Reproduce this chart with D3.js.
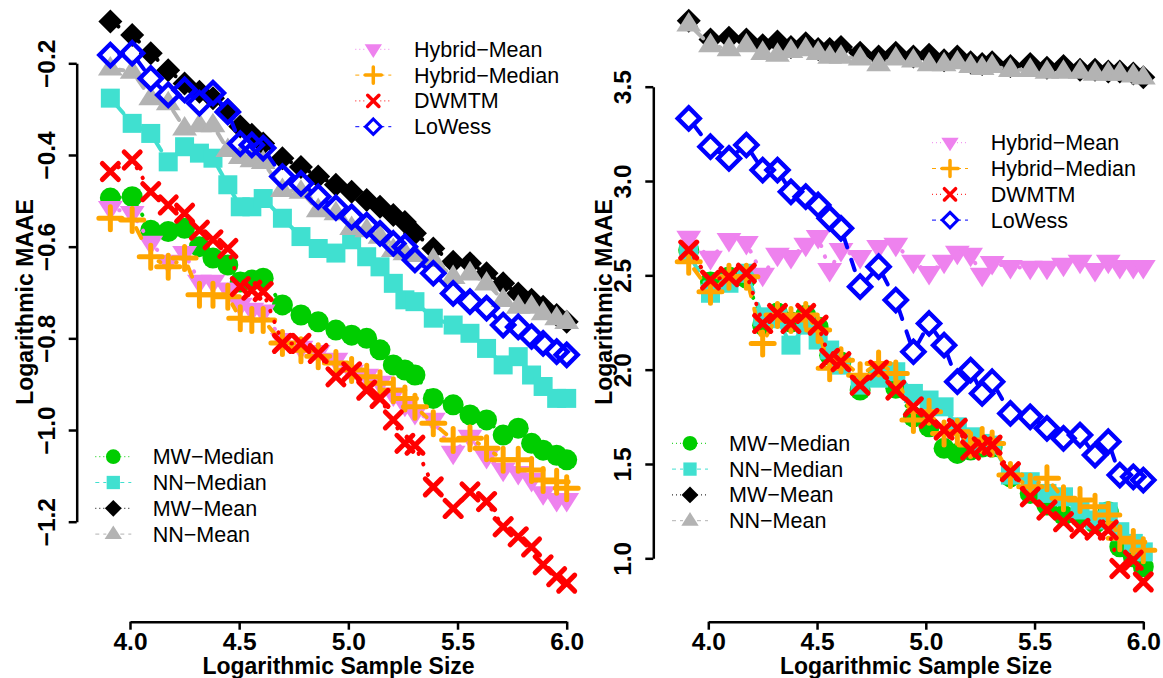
<!DOCTYPE html>
<html>
<head>
<meta charset="utf-8">
<script src="https://cdn.jsdelivr.net/npm/d3@7"></script>
<style>
  body { margin: 0; background: #fff; }
  text { font-family: "Liberation Sans", Arial, Helvetica, sans-serif; }
</style>
</head>
<body>
<div id="chart"></div>
<script>
// log10 sample sizes, shared by both panels
const logN = [3.91, 4.01, 4.095, 4.175, 4.25, 4.318, 4.38, 4.448, 4.505, 4.558, 4.61, 4.698, 4.783, 4.862, 4.943,
  5.015, 5.084, 5.145, 5.206, 5.259, 5.305, 5.389, 5.48, 5.557, 5.633, 5.709, 5.778, 5.839, 5.892, 5.954, 6.0];

const methods = ["MW\u2212Median", "NN\u2212Median", "MW\u2212Mean", "NN\u2212Mean",
  "Hybrid\u2212Mean", "Hybrid\u2212Median", "DWMTM", "LoWess"];

// left panel
const leftMWMedian = [-0.494,-0.491,-0.564,-0.567,-0.560,-0.600,-0.625,-0.640,-0.677,-0.673,-0.669,-0.727,-0.749,-0.764,-0.782,-0.793,-0.800,-0.825,-0.858,-0.869,-0.880,-0.931,-0.945,-0.967,-0.978,-1.011,-0.996,-1.029,-1.044,-1.055,-1.065];
const leftNNMedian = [-0.276,-0.331,-0.353,-0.415,-0.382,-0.396,-0.407,-0.465,-0.513,-0.513,-0.495,-0.538,-0.578,-0.604,-0.614,-0.585,-0.622,-0.644,-0.680,-0.716,-0.720,-0.756,-0.771,-0.789,-0.822,-0.858,-0.840,-0.880,-0.905,-0.931,-0.931];
const leftMWMean = [-0.109,-0.138,-0.178,-0.215,-0.244,-0.262,-0.276,-0.302,-0.338,-0.356,-0.375,-0.407,-0.426,-0.447,-0.465,-0.480,-0.498,-0.513,-0.531,-0.546,-0.571,-0.604,-0.633,-0.636,-0.658,-0.680,-0.702,-0.716,-0.731,-0.749,-0.764];
const leftNNMean = [-0.211,-0.218,-0.276,-0.287,-0.342,-0.335,-0.335,-0.389,-0.404,-0.411,-0.415,-0.476,-0.480,-0.520,-0.527,-0.559,-0.564,-0.578,-0.607,-0.614,-0.618,-0.629,-0.666,-0.658,-0.680,-0.716,-0.731,-0.731,-0.745,-0.756,-0.764];
const leftHybridMean = [-0.516,-0.527,-0.592,-0.633,-0.614,-0.677,-0.677,-0.694,-0.727,-0.738,-0.742,-0.804,-0.821,-0.830,-0.847,-0.873,-0.882,-0.897,-0.923,-0.945,-0.963,-0.978,-1.050,-1.015,-1.059,-1.087,-1.094,-1.109,-1.138,-1.153,-1.153];
const leftHybridMedian = [-0.538,-0.542,-0.622,-0.644,-0.625,-0.705,-0.705,-0.709,-0.756,-0.760,-0.760,-0.810,-0.826,-0.839,-0.854,-0.869,-0.884,-0.898,-0.913,-0.931,-0.949,-0.985,-1.022,-1.018,-1.040,-1.065,-1.065,-1.087,-1.109,-1.113,-1.127];
const leftDWMTM = [-0.436,-0.411,-0.480,-0.509,-0.527,-0.564,-0.585,-0.604,-0.687,-0.695,-0.698,-0.811,-0.811,-0.833,-0.884,-0.873,-0.913,-0.931,-0.978,-1.029,-1.033,-1.124,-1.171,-1.135,-1.156,-1.211,-1.233,-1.255,-1.294,-1.320,-1.334];
const leftLoWess = [-0.182,-0.178,-0.233,-0.269,-0.258,-0.287,-0.265,-0.306,-0.375,-0.378,-0.385,-0.447,-0.462,-0.491,-0.515,-0.535,-0.553,-0.571,-0.593,-0.600,-0.629,-0.658,-0.702,-0.720,-0.734,-0.771,-0.775,-0.796,-0.811,-0.829,-0.836];

// right panel
const rightMWMedian = [2.634,2.465,2.491,2.486,2.236,2.300,2.252,2.289,2.226,2.077,2.040,1.892,1.987,1.902,1.750,1.697,1.583,1.556,1.574,1.590,1.590,1.432,1.344,1.282,1.229,1.220,1.185,1.247,1.061,1.008,0.955];
const rightNNMedian = [2.617,2.405,2.458,2.511,2.280,2.270,2.130,2.236,2.157,2.104,2.024,1.918,1.955,1.989,1.874,1.839,1.803,1.697,1.644,1.609,1.600,1.441,1.406,1.344,1.326,1.256,1.203,1.247,1.141,1.079,1.034];
const rightMWMean = [3.85,3.75,3.76,3.75,3.72,3.74,3.71,3.73,3.70,3.70,3.71,3.68,3.66,3.68,3.66,3.67,3.64,3.66,3.63,3.62,3.63,3.61,3.62,3.60,3.61,3.59,3.59,3.58,3.58,3.57,3.55];
const rightNNMean = [3.83,3.72,3.70,3.72,3.68,3.67,3.69,3.70,3.68,3.66,3.66,3.65,3.62,3.65,3.64,3.62,3.62,3.63,3.61,3.60,3.61,3.59,3.59,3.58,3.58,3.58,3.57,3.57,3.57,3.56,3.55];
const rightHybridMean = [2.698,2.592,2.687,2.671,2.502,2.608,2.597,2.661,2.703,2.528,2.634,2.597,2.650,2.661,2.571,2.512,2.571,2.619,2.608,2.502,2.565,2.544,2.539,2.539,2.555,2.571,2.528,2.571,2.544,2.544,2.544];
const rightHybridMedian = [2.572,2.413,2.493,2.493,2.139,2.290,2.263,2.290,2.210,2.007,2.050,1.971,2.033,1.980,1.733,1.777,1.662,1.671,1.600,1.627,1.609,1.441,1.379,1.424,1.318,1.309,1.273,1.229,1.106,1.087,1.043];
const rightDWMTM = [2.634,2.475,2.493,2.511,2.245,2.298,2.245,2.298,2.236,2.060,2.042,1.918,1.998,1.892,1.803,1.742,1.680,1.689,1.574,1.591,1.600,1.459,1.326,1.256,1.194,1.159,1.150,1.150,0.946,0.990,0.875];
const rightLoWess = [3.332,3.182,3.120,3.191,3.058,3.058,2.943,2.917,2.873,2.802,2.749,2.440,2.546,2.369,2.095,2.245,2.130,1.936,1.998,1.874,1.936,1.768,1.750,1.689,1.636,1.653,1.547,1.618,1.441,1.432,1.415];

const xTicks = [4.0, 4.5, 5.0, 5.5, 6.0];
const leftYTicks = [-0.2, -0.4, -0.6, -0.8, -1.0, -1.2];
const rightYTicks = [1.0, 1.5, 2.0, 2.5, 3.0, 3.5];

// look of each method, same order as methods
const styles = [
  {color: "#00cd00", shape: "circle", dash: "dot"},
  {color: "#40e0d0", shape: "square", dash: "dash"},
  {color: "#000000", shape: "diamond", dash: "dot"},
  {color: "#b3b3b3", shape: "triangle", dash: "dash"},
  {color: "#ee82ee", shape: "triangleDown", dash: "dot"},
  {color: "#ffa500", shape: "plus", dash: "dash"},
  {color: "#ff0000", shape: "cross", dash: "dot"},
  {color: "#0000ff", shape: "diamondOpen", dash: "dash"}
];

const svg = d3.select("#chart").append("svg")
  .attr("width", 1163).attr("height", 678)
  .style("background", "#fff");

function symbolPath(shape, k) {
  let h, s;
  switch (shape) {
    case "circle": h = 10.5 * k; return `M${-h},0A${h},${h} 0 1,0 ${h},0A${h},${h} 0 1,0 ${-h},0Z`;
    case "square": h = 9.5 * k; return `M${-h},${-h}H${h}V${h}H${-h}Z`;
    case "diamond": h = 12 * k; return `M0,${-h}L${h},0L0,${h}L${-h},0Z`;
    case "diamondOpen": h = 11 * k; return `M0,${-h}L${h},0L0,${h}L${-h},0Z`;
    case "triangle": s = 9.2 * k; return `M0,${-1.3468 * s}L${1.3468 * s},${0.7776 * s}L${-1.3468 * s},${0.7776 * s}Z`;
    case "triangleDown": s = 9.2 * k; return `M0,${1.3468 * s}L${1.3468 * s},${-0.7776 * s}L${-1.3468 * s},${-0.7776 * s}Z`;
    case "plus": h = 11.5 * k; return `M${-h},0H${h}M0,${-h}V${h}`;
    case "cross": h = 8 * k; return `M${-h},${-h}L${h},${h}M${-h},${h}L${h},${-h}`;
  }
}

function addSymbol(g, st, px, py, k) {
  const open = st.shape === "plus" || st.shape === "cross" || st.shape === "diamondOpen";
  g.append("path")
    .attr("d", symbolPath(st.shape, k))
    .attr("transform", `translate(${px},${py})`)
    .attr("fill", open ? "none" : st.color)
    .attr("stroke", open ? st.color : "none")
    .attr("stroke-width", (st.shape === "diamondOpen" ? 4.4 : 5) * k)
    .attr("stroke-linecap", "round")
    .attr("stroke-linejoin", "miter");
}

function panel(o) {
  const x = d3.scaleLinear().domain([4, 6]).range(o.xRange);
  const y = d3.scaleLinear().domain(o.yDomain).range(o.yRange);
  const g = svg.append("g");

  // axes
  const gx = g.append("g")
    .attr("transform", `translate(0,${o.axisY})`)
    .call(d3.axisBottom(x).tickValues(xTicks).tickFormat(d3.format(".1f"))
      .tickSize(8).tickSizeOuter(0).tickPadding(3));
  const gy = g.append("g")
    .attr("transform", `translate(${o.axisX},0)`)
    .call(d3.axisLeft(y).tickValues(o.yTicks).tickFormat(d3.format(".1f"))
      .tickSize(8).tickSizeOuter(0));
  [gx, gy].forEach(a => {
    a.attr("font-family", null).attr("font-size", null);
    a.selectAll("path, line").attr("stroke", "#000").attr("stroke-width", 2.5);
    a.selectAll("text").attr("fill", "#000").style("font-size", "24.5px").style("font-weight", "bold");
  });
  gy.selectAll("text")
    .attr("x", null).attr("dy", null)
    .attr("text-anchor", "middle")
    .attr("transform", "translate(-22,0) rotate(-90)");

  g.append("text")
    .attr("x", o.xTitleX).attr("y", 674)
    .attr("text-anchor", "middle")
    .style("font-size", "23px").style("font-weight", "bold")
    .text("Logarithmic Sample Size");
  g.append("text")
    .attr("transform", `translate(${o.yTitleX},302) rotate(-90)`)
    .attr("text-anchor", "middle")
    .style("font-size", "23px").style("font-weight", "bold")
    .text("Logarithmic MAAE");

  // series, type "b": segments with gaps around the points, then the points
  const gap = 9;
  o.series.forEach((vals, i) => {
    const st = styles[i];
    const sg = g.append("g");
    const pts = logN.map((v, j) => [x(v), y(vals[j])]);
    for (let j = 0; j < pts.length - 1; j++) {
      const [x1, y1] = pts[j], [x2, y2] = pts[j + 1];
      const dx = x2 - x1, dy = y2 - y1, L = Math.hypot(dx, dy);
      if (L <= 2 * gap) continue;
      const ux = dx / L, uy = dy / L;
      sg.append("line")
        .attr("x1", x1 + ux * gap).attr("y1", y1 + uy * gap)
        .attr("x2", x2 - ux * gap).attr("y2", y2 - uy * gap)
        .attr("stroke", st.color).attr("stroke-width", 4)
        .attr("stroke-linecap", "round")
        .attr("stroke-dasharray", st.dash === "dot" ? "0.5,11" : "11,13");
    }
    pts.forEach(p => addSymbol(sg, st, p[0], p[1], 1));
  });

  // legends
  o.legends.forEach(lg => {
    lg.items.forEach((idx, r) => {
      const st = styles[idx];
      const cy = lg.y + r * 25.8;
      const lgG = g.append("g");
      [[lg.x - 18, lg.x - 7], [lg.x + 7, lg.x + 18]].forEach(([a, b]) => {
        lgG.append("line")
          .attr("x1", a).attr("x2", b).attr("y1", cy).attr("y2", cy)
          .attr("stroke", st.color).attr("stroke-width", 1)
          .attr("stroke-dasharray", st.dash === "dot" ? "1,3" : "4,4");
      });
      addSymbol(lgG, st, lg.x, cy, 0.7);
      lgG.append("text")
        .attr("x", lg.textX).attr("y", cy).attr("dy", "0.35em")
        .style("font-size", "21.5px")
        .text(methods[idx]);
    });
  });
}

panel({
  xRange: [130, 566.7], yDomain: [-0.2, -1.2], yRange: [63.3, 521.7],
  axisX: 76.7, axisY: 621.7, yTicks: leftYTicks,
  xTitleX: 338.5, yTitleX: 33,
  series: [leftMWMedian, leftNNMedian, leftMWMean, leftNNMean,
    leftHybridMean, leftHybridMedian, leftDWMTM, leftLoWess],
  legends: [
    {x: 373.3, textX: 414, y: 49.3, items: [4, 5, 6, 7]},
    {x: 113.3, textX: 152.7, y: 456.7, items: [0, 1, 2, 3]}
  ]
});

panel({
  xRange: [708.3, 1143.3], yDomain: [3.5, 1.0], yRange: [86.7, 558.3],
  axisX: 653.3, axisY: 621.7, yTicks: rightYTicks,
  xTitleX: 916, yTitleX: 612,
  series: [rightMWMedian, rightNNMedian, rightMWMean, rightNNMean,
    rightHybridMean, rightHybridMedian, rightDWMTM, rightLoWess],
  legends: [
    {x: 950, textX: 990.7, y: 142.7, items: [4, 5, 6, 7]},
    {x: 690, textX: 729, y: 443.3, items: [0, 1, 2, 3]}
  ]
});
</script>
</body>
</html>
